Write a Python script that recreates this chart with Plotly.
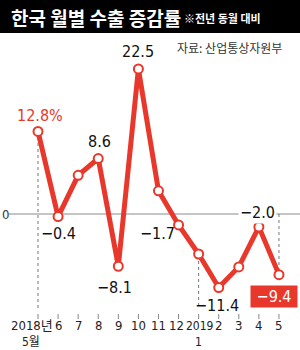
import plotly.graph_objects as go

months = ["2018.5", "2018.6", "2018.7", "2018.8", "2018.9", "2018.10", "2018.11",
          "2018.12", "2019.1", "2019.2", "2019.3", "2019.4", "2019.5"]
values = [12.8, -0.4, 6.0, 8.6, -8.1, 22.5, 3.6, -1.7, -6.2, -11.4, -8.2, -2.0, -9.4]
tick_top = ["2018년", "6", "7", "8", "9", "10", "11", "12", "2019", "2", "3", "4", "5"]
tick_bottom = ["5월", "", "", "", "", "", "", "", "1", "", "", "", ""]
label_text = {0: "12.8%", 1: "−0.4", 3: "8.6", 4: "−8.1", 5: "22.5", 7: "−1.7",
              9: "−11.4", 11: "−2.0", 12: "−9.4"}

RED = "#e8382c"
NUM_FONT = "Liberation Sans Narrow, DejaVu Sans Condensed, Liberation Sans, Arial"
KR_FONT = "Noto Sans CJK KR, Noto Sans"

W, H = 300, 350
x0px, dx = 38.0, 20.08
y0px, dy = 214.0, 6.45
xr = [(0 - x0px) / dx, (W - x0px) / dx]
yr = [(y0px - H) / dy, (y0px - 0) / dy]

def py(p):  # paper y from pixel
    return 1 - p / H

def px(p):
    return p / W

idx = list(range(len(months)))

fig = go.Figure()
fig.add_trace(go.Scatter(
    x=idx, y=values, mode="lines+markers",
    line=dict(color=RED, width=5),
    marker=dict(size=9, color="white", line=dict(color=RED, width=2)),
    hoverinfo="skip", cliponaxis=False))

shapes = []
shapes.append(dict(type="rect", xref="paper", yref="paper", x0=0, x1=1,
                   y0=py(33), y1=1, fillcolor="black", line=dict(width=0), layer="below"))
shapes.append(dict(type="line", xref="paper", yref="y", x0=px(9), x1=1, y0=0, y1=0,
                   line=dict(color="#8a8a8a", width=1), layer="below"))
shapes.append(dict(type="line", xref="x", yref="paper", x0=0, x1=0,
                   y0=py(308), y1=py(135), line=dict(color="#777", width=1, dash="dot"), layer="below"))
shapes.append(dict(type="line", xref="x", yref="paper", x0=8, x1=8,
                   y0=py(306), y1=py(257), line=dict(color="#777", width=1, dash="dot"), layer="below"))
shapes.append(dict(type="line", xref="x", yref="y", x0=12, x1=12,
                   y0=0, y1=values[12], line=dict(color="#777", width=1, dash="dot"), layer="below"))
for i in idx:
    shapes.append(dict(type="line", xref="x", yref="paper", x0=i, x1=i,
                       y0=py(319), y1=py(314), line=dict(color="#888", width=1)))

annotations = []
annotations.append(dict(xref="paper", yref="paper", x=px(9), y=py(17), xanchor="left",
                        yanchor="middle", showarrow=False,
                        text="<b>한국 월별 수출 증감률</b>",
                        font=dict(family=KR_FONT, size=19, color="white")))
annotations.append(dict(xref="paper", yref="paper", x=px(182), y=py(18), xanchor="left",
                        yanchor="middle", showarrow=False,
                        text="<b>※전년 동월 대비</b>",
                        font=dict(family=KR_FONT, size=11, color="white")))
annotations.append(dict(xref="paper", yref="paper", x=px(284), y=py(48), xanchor="right",
                        yanchor="middle", showarrow=False, text="자료: 산업통상자원부",
                        font=dict(family=KR_FONT, size=12, color="#333")))
annotations.append(dict(xref="paper", yref="y", x=px(0), y=0, xanchor="left",
                        yanchor="middle", showarrow=False, text="0",
                        font=dict(family=NUM_FONT, size=13, color="#333")))

offsets = {0: (2, 16), 1: (0, -17), 3: (1, 17), 4: (-4, -21), 5: (0, 17),
           7: (-21, -9), 9: (-2, -18), 11: (-1, 14), 12: (-5, -22)}
for i, t in label_text.items():
    xs, ys = offsets[i]
    a = dict(x=i, y=values[i], xshift=xs, yshift=ys, showarrow=False, text=t,
             font=dict(family=NUM_FONT, size=16, color="#111"))
    if i == 0:
        a["font"]["color"] = RED
    if i == 11:
        a["bgcolor"] = "white"
    if i == 12:
        a["font"]["color"] = "white"
        a["bgcolor"] = RED
        a["borderpad"] = 1
        a["text"] = "&nbsp;" + t + "&nbsp;"
    annotations.append(a)

TICK_FONT = NUM_FONT + ", Noto Sans CJK KR"
for i in idx:
    xs = {0: -6, 7: -2, 8: 1}.get(i, 0)
    size = 12 if i == 8 else 13
    annotations.append(dict(x=i, xshift=xs, yref="paper", y=py(325.5), showarrow=False,
                            text=tick_top[i], yanchor="middle",
                            font=dict(family=TICK_FONT, size=size, color="#222")))
    if tick_bottom[i]:
        annotations.append(dict(x=i, xshift=(-7 if i == 0 else 0), yref="paper", y=py(342),
                                showarrow=False, text=tick_bottom[i], yanchor="middle",
                                font=dict(family=TICK_FONT, size=12, color="#222")))

fig.update_layout(
    width=W, height=H, autosize=False,
    margin=dict(l=0, r=0, t=0, b=0),
    paper_bgcolor="white", plot_bgcolor="white",
    showlegend=False,
    xaxis=dict(range=xr, visible=False, fixedrange=True),
    yaxis=dict(range=yr, visible=False, fixedrange=True),
    shapes=shapes, annotations=annotations,
)

fig.write_html("out.html", config={"displayModeBar": False})
